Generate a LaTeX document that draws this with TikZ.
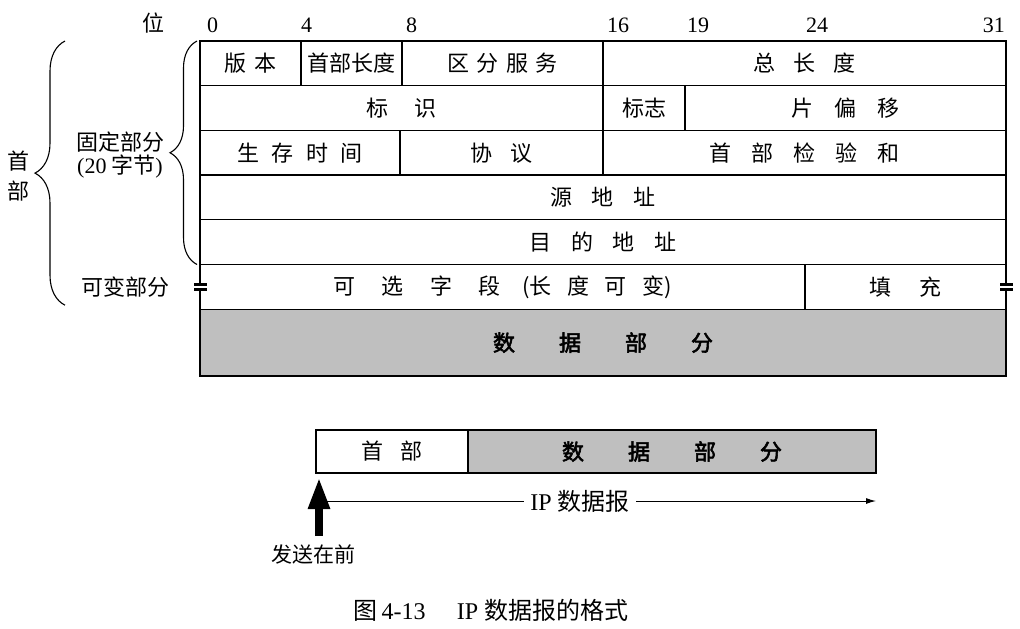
\documentclass[tikz,border=0pt]{standalone}
\usepackage{fontspec}
\setmainfont{Liberation Serif}
\newfontfamily\cjk{Noto Sans CJK SC}[AutoFakeBold=2.5]
\usetikzlibrary{positioning,arrows.meta,decorations.pathreplacing}

\begin{document}
\begin{tikzpicture}%
  [x=1pt,y=-1pt,
   cell/.style=
    {draw,line width=1.3pt,minimum height=44.7pt,inner sep=0pt,outer sep=0pt,
     font=\cjk\fontsize{22}{24}\selectfont},
   datacell/.style=
    {cell,fill=black!25,font=\cjk\bfseries\fontsize{22}{24}\selectfont},
   bitno/.style={inner sep=0pt,font=\fontsize{22}{24}\selectfont},
   side/.style={inner sep=0pt,align=center,font=\cjk\fontsize{22}{23}\selectfont},
   curly/.style={decorate,decoration={brace,amplitude=#1},line width=1.1pt},
   brk/.style={line width=3pt},
   flow/.style={line width=1pt,-{Latex[length=10pt,width=6pt]}},
   sendflow/.style={line width=8pt,-{Triangle[length=32pt,width=20pt]}}
  ]
  \useasboundingbox (0,0) rectangle (1020,629);
  % header fields
  \node[cell,minimum width=101pt,anchor=north west] (ver) at (200,41) {版\hspace{0.4em}本};
  \node[cell,minimum width=101pt,right=0pt of ver] (ihl) {首部长度};
  \node[cell,minimum width=201pt,right=0pt of ihl] (tos)
    {区\hspace{0.33em}分\hspace{0.33em}服\hspace{0.33em}务};
  \node[cell,minimum width=403pt,right=0pt of tos] (tlen) {总\hspace{0.8em}长\hspace{0.8em}度};
  \node[cell,minimum width=403pt,anchor=north west] (ident) at (ver.south west)
    {标\hspace{1.2em}识};
  \node[cell,minimum width=82pt,right=0pt of ident] (flags) {标志};
  \node[cell,minimum width=321pt,right=0pt of flags] (frag)
    {片\hspace{0.95em}偏\hspace{0.95em}移};
  \node[cell,minimum width=200pt,anchor=north west] (ttl) at (ident.south west)
    {生\hspace{0.55em}存\hspace{0.55em}时\hspace{0.55em}间};
  \node[cell,minimum width=203pt,right=0pt of ttl] (proto) {协\hspace{0.8em}议};
  \node[cell,minimum width=403pt,right=0pt of proto] (hcs)
    {首\hspace{0.9em}部\hspace{0.9em}检\hspace{0.9em}验\hspace{0.9em}和};
  \node[cell,minimum width=806pt,anchor=north west] (src) at (ttl.south west)
    {源\hspace{0.9em}地\hspace{0.9em}址};
  \node[cell,minimum width=806pt,anchor=north west] (dst) at (src.south west)
    {目\hspace{0.9em}的\hspace{0.9em}地\hspace{0.9em}址};
  \node[cell,minimum width=605pt,anchor=north west] (opt) at (dst.south west)
    {可\hspace{1.2em}选\hspace{1.2em}字\hspace{1.2em}段\hspace{1em}(长\hspace{0.7em}度\hspace{0.7em}可\hspace{0.7em}变)};
  \node[cell,minimum width=201pt,right=0pt of opt] (pad) {填\hspace{1.25em}充};
  \node[datacell,minimum width=806pt,minimum height=66.8pt,anchor=north west] (data)
    at (opt.south west) {数\hspace{2em}据\hspace{2em}部\hspace{2em}分};
  % bit numbers
  \node[side,anchor=base] (wei) at (153,31) {位};
  \foreach \b/\x in {0/207,4/301,8/406,16/607,19/687,24/806}
    \node[bitno,anchor=base west] (b\b) at (\x,32) {\b};
  \node[bitno,anchor=base east] (b31) at (1005,32) {31};
  % breaks in the options row
  \fill[white] ([xshift=-6pt,yshift=-1pt]opt.west) rectangle ([xshift=7pt,yshift=1pt]opt.west);
  \draw[brk] ([xshift=-6pt,yshift=2.5pt]opt.west) -- ++(13,0);
  \draw[brk] ([xshift=-6pt,yshift=-2.5pt]opt.west) -- ++(13,0);
  \fill[white] ([xshift=-6pt,yshift=-1pt]pad.east) rectangle ([xshift=7pt,yshift=1pt]pad.east);
  \draw[brk] ([xshift=-6pt,yshift=2.5pt]pad.east) -- ++(13,0);
  \draw[brk] ([xshift=-6pt,yshift=-2.5pt]pad.east) -- ++(13,0);
  % braces and their labels
  \draw[curly=27pt] ([xshift=-3pt]dst.south west) -- ([xshift=-3pt]ver.north west);
  \draw[curly=30pt] ([xshift=-135pt,yshift=4pt]opt.south west) -- ([xshift=-135pt]ver.north west);
  \node[side,font=\cjk\fontsize{22}{30}\selectfont] (hd) at (18,176) {首\\部};
  \node[side] (fixed) at (120,155) {固定部分\\{\rmfamily(20} 字节{\rmfamily)}};
  \node[side] (var) at (125,287) {可变部分};
  % datagram below
  \node[cell,minimum width=152pt,minimum height=43pt,anchor=north west] (hdr) at (316,430)
    {首\hspace{0.8em}部};
  \node[datacell,minimum width=408pt,minimum height=43pt,right=0pt of hdr] (body)
    {数\hspace{2em}据\hspace{2em}部\hspace{2em}分};
  \node[side,font=\cjk\fontsize{21}{23}\selectfont] (send) at (313,554) {发送在前};
  \coordinate (tip) at ([xshift=3pt,yshift=-4pt]hdr.south west);
  \path (send.north -| tip) ++(0,-8) coordinate (foot);
  \draw[sendflow] (foot) -- (tip);
  \coordinate (ipl) at ([xshift=7pt,yshift=-28pt]hdr.south west);
  \draw[flow] (ipl) -- (ipl -| body.east)
    node[pos=0.465,fill=white,inner sep=6pt,font=\fontsize{24}{26}\selectfont] (ip)
    {IP {\cjk 数据报}};
  \node[font=\fontsize{24}{26}\selectfont] (cap) at (491,610)
    {{\cjk 图}\,4-13\hspace{1.3em}IP {\cjk 数据报的格式}};
\end{tikzpicture}
\end{document}
